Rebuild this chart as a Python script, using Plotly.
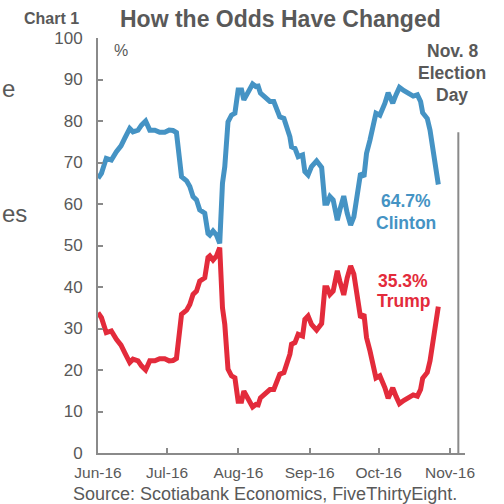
import plotly.graph_objects as go

# Days since 2016-06-01
days = [0, 1.5, 3.6, 5.8, 8.0, 10.0, 11.6, 13.8, 15.2, 17.4, 18.9, 20.7, 22.5, 24.7, 26.8, 29.0,
        30.9, 32.6, 34.1, 34.8, 36.3, 38.5, 39.9, 41.3, 42.8, 44.2, 46.4, 47.8, 48.6, 50.0, 51.5,
        52.9, 54.1, 55.1, 56.5, 58.0, 59.5, 60.9, 62.4, 63.4, 65.2, 67.2, 68.6, 69.6, 70.6, 72.5,
        74.7, 76.4, 77.3, 79.0, 80.8, 83.4, 84.1, 85.6, 87.0, 88.9, 89.9, 91.3, 92.8, 95.0, 97.2,
        98.6, 99.6, 100.8, 102.2, 104.0, 105.1, 106.8, 108.3, 109.8, 111.2, 112.7, 114.1, 115.6,
        116.7, 118.2, 119.6, 120.8, 122.5, 124.0, 124.7, 126.1, 128.1, 129.5, 131.0, 133.0, 134.8,
        137.0, 138.8, 140.2, 141.1, 143.1, 144.3, 146.0, 147.9]

clinton = [66.2, 67.4, 71.0, 70.6, 72.6, 74.0, 75.8, 78.2, 77.4, 77.8, 79.0, 80.0, 77.8, 77.8, 77.3, 77.3,
           77.8, 77.7, 77.2, 73.0, 66.6, 65.6, 64.2, 61.8, 61.0, 58.6, 57.8, 52.9, 52.5, 53.5, 52.5,
           50.5, 65.0, 69.0, 79.8, 81.4, 81.9, 87.5, 87.5, 85.1, 86.7, 88.9, 88.3, 88.4, 86.7, 85.9,
           84.7, 84.7, 83.4, 81.0, 80.6, 76.2, 73.8, 73.4, 71.4, 71.8, 67.8, 67.0, 69.0, 70.4, 68.8,
           60.2, 60.2, 61.8, 61.0, 56.1, 58.6, 61.9, 57.8, 54.9, 56.9, 61.8, 67.4, 66.6,
           72.2, 75.4, 79.0, 81.9, 81.4, 83.1, 84.3, 86.8, 84.3, 86.3, 88.1, 87.3, 86.7,
           86.0, 86.3, 84.7, 82.0, 80.6, 77.8, 71.4, 64.7]

trump = [33.8, 32.6, 29.0, 29.4, 27.4, 26.0, 24.2, 21.8, 22.6, 22.2, 21.0, 20.0, 22.2, 22.2, 22.7, 22.7,
         22.2, 22.3, 22.8, 27.0, 33.4, 34.4, 35.8, 38.2, 39.0, 41.4, 42.2, 47.1, 47.5, 46.5, 47.5,
         49.5, 35.0, 31.0, 20.2, 18.6, 18.1, 12.5, 12.5, 14.9, 13.3, 11.1, 11.7, 11.6, 13.3, 14.1,
         15.3, 15.3, 16.6, 19.0, 19.4, 23.8, 26.2, 26.6, 28.6, 28.2, 32.2, 33.0, 31.0, 29.6, 31.2,
         39.8, 39.8, 38.2, 39.0, 43.9, 41.4, 38.1, 42.2, 45.1, 43.1, 38.2, 32.6, 33.4,
         27.8, 24.6, 21.0, 18.1, 18.6, 16.9, 15.7, 13.2, 15.7, 13.7, 11.9, 12.7, 13.3,
         14.0, 13.7, 15.3, 18.0, 19.4, 22.2, 28.6, 35.3]

month_ticks = [0, 30, 61, 92, 122, 153]
month_labels = ["Jun-16", "Jul-16", "Aug-16", "Sep-16", "Oct-16", "Nov-16"]
y_ticks = [0, 10, 20, 30, 40, 50, 60, 70, 80, 90, 100]
election_day = 156.6
election_line_top = 77.3

BLUE = "#4593C4"
RED = "#E32B3B"
GREY = "#595959"
AXIS = "#8a8a8a"
FONT = "Liberation Sans, Arial, sans-serif"

W, H = 504, 504
L, R, T, B = 98, 39, 38, 51


def px(x, y):
    return (x - L) / (W - L - R), (H - B - y) / (H - T - B)


fig = go.Figure()
fig.add_trace(go.Scatter(x=days, y=clinton, mode="lines", name="Clinton",
                         line=dict(color=BLUE, width=5), hoverinfo="skip"))
fig.add_trace(go.Scatter(x=days, y=trump, mode="lines", name="Trump",
                         line=dict(color=RED, width=5), hoverinfo="skip"))

fig.add_shape(type="line", xref="x", yref="y", x0=election_day, x1=election_day,
              y0=0, y1=election_line_top, line=dict(color=AXIS, width=2))

anns = []


def add_text(x, y, text, size, color, bold=False, xanchor="center"):
    xp, yp = px(x, y)
    anns.append(dict(xref="paper", yref="paper", x=xp, y=yp, text=(f"<b>{text}</b>" if bold else text),
                     showarrow=False, xanchor=xanchor, yanchor="middle",
                     font=dict(family=FONT, size=size, color=color)))


add_text(51, 19, "Chart 1", 16, GREY, bold=True)
add_text(280, 19, "How the Odds Have Changed", 23, GREY, bold=True)
add_text(121, 51, "%", 16, GREY)
add_text(452, 51, "Nov. 8", 17.5, GREY, bold=True)
add_text(452, 73, "Election", 17.5, GREY, bold=True)
add_text(452, 95, "Day", 17.5, GREY, bold=True)
add_text(406, 201, "64.7%", 17.5, BLUE, bold=True)
add_text(406, 223, "Clinton", 17.5, BLUE, bold=True)
add_text(403, 281, "35.3%", 17.5, RED, bold=True)
add_text(403, 301, "Trump", 17.5, RED, bold=True)
add_text(265, 494, "Source: Scotiabank Economics, FiveThirtyEight.", 18, GREY)
add_text(0, 88, "e", 24, GREY, xanchor="left")
add_text(0, 213, "es", 24, GREY, xanchor="left")

fig.update_layout(
    width=W, height=H,
    margin=dict(l=L, r=R, t=T, b=B, pad=0),
    paper_bgcolor="white", plot_bgcolor="white",
    showlegend=False,
    annotations=anns,
    font=dict(family=FONT, color=GREY),
)
fig.update_xaxes(range=[0, 159.5], tickvals=month_ticks, ticktext=month_labels,
                 showline=True, linecolor=AXIS, linewidth=2, ticks="inside", ticklen=5,
                 tickcolor=AXIS, tickwidth=2, showgrid=False, zeroline=False,
                 tickfont=dict(size=15.5, color=GREY, family=FONT), ticklabelstandoff=4)
fig.update_yaxes(range=[0, 100], tickvals=y_ticks,
                 showline=True, linecolor=AXIS, linewidth=2, ticks="inside", ticklen=5,
                 tickcolor=AXIS, tickwidth=2, showgrid=False, zeroline=False,
                 tickfont=dict(size=17, color=GREY, family=FONT), ticklabelstandoff=10)

fig.write_html("out.html")
